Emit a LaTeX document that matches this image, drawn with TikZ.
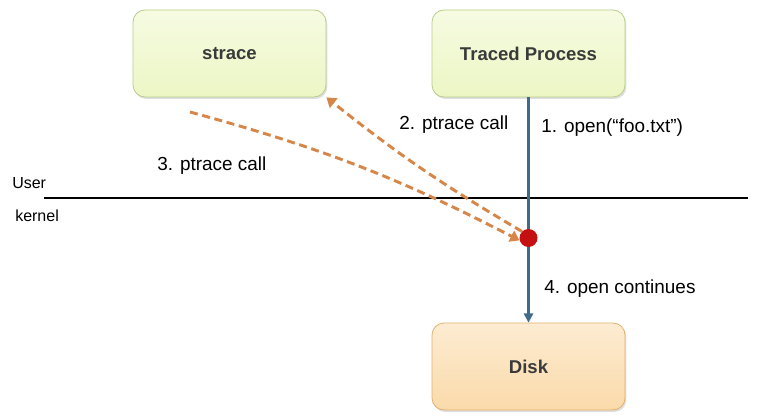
\documentclass[tikz,border=0pt]{standalone}
\usepackage{fontspec}
\setmainfont{Liberation Sans}
\usetikzlibrary{arrows.meta,shadows}

\definecolor{boxgreen}{RGB}{236,246,196}
\definecolor{boxgreentop}{RGB}{246,251,226}
\definecolor{edgegreen}{RGB}{184,204,140}
\definecolor{boxorange}{RGB}{250,218,170}
\definecolor{boxorangetop}{RGB}{253,236,210}
\definecolor{edgeorange}{RGB}{226,176,110}
\definecolor{flowblue}{RGB}{62,108,136}
\definecolor{callorange}{RGB}{214,134,72}
\definecolor{trapred}{RGB}{196,16,16}
\definecolor{labelgray}{RGB}{58,58,58}

\tikzset{
  procbox/.style={draw=edgegreen, line width=0.6pt, rounded corners=9pt,
    top color=boxgreentop, bottom color=boxgreen,
    minimum width=144.75pt, minimum height=65.25pt,
    font=\fontsize{13.9}{16}\selectfont\bfseries, text=labelgray,
    drop shadow={shadow xshift=1pt, shadow yshift=-1.5pt, opacity=0.25}},
  diskbox/.style={procbox, draw=edgeorange, top color=boxorangetop, bottom color=boxorange},
  flow/.style={flowblue, line width=1.6pt},
  call/.style={callorange, line width=2.2pt, dash pattern=on 6pt off 3.5pt,
    -{Triangle[length=7pt,width=9pt]}},
  steplabel/.style={font=\fontsize{14.2}{16}\selectfont, inner sep=0.75pt},
  modelabel/.style={font=\fontsize{12}{14}\selectfont, anchor=west, inner sep=0.75pt}
}

\begin{document}
\begin{tikzpicture}[x=0.75pt,y=0.75pt,yscale=-1,xscale=1]
  \useasboundingbox (0,0) rectangle (759,417);

  % Boxes
  \node[procbox] (strace) at (229.5,53.5) {strace};
  \node[procbox] (proc) at (528.5,53.5) {Traced Process};
  \node[diskbox] (disk) at (528.5,366.5) {Disk};

  % User / kernel boundary
  \coordinate (bl) at (44,198);
  \coordinate (br) at (748,198);
  \draw[line width=1.2pt] (bl) -- (br);
  \node[modelabel] (user) at (11,183) {User};
  \node[modelabel] (kernel) at (14,216) {kernel};

  % Trap point
  \coordinate (trapc) at (528.5,238);
  \draw[flow] (proc.south) -- (trapc);
  \draw[flow,-{Triangle[length=7pt,width=7pt]}] (trapc) -- (disk.north);
  \node[circle, fill=trapred, minimum size=13.5pt, inner sep=0pt] (trap) at (trapc) {};

  % ptrace calls
  \coordinate (st) at (190,112);
  \draw[call] (trap.135) to[bend right=4] (strace.south east);
  \draw[call] (st) to[bend right=6] (trap.195);

  % Text Node
  \node[steplabel, anchor=west] (l1) at (540,128) {1. open(“foo.txt”)};
  \node[steplabel, anchor=west] (l2) at (398,125) {2. ptrace call};
  \node[steplabel, anchor=west] (l3) at (156,166) {3. ptrace call};
  \node[steplabel, anchor=west] (l4) at (543,289) {4. open continues};
\end{tikzpicture}
\end{document}
